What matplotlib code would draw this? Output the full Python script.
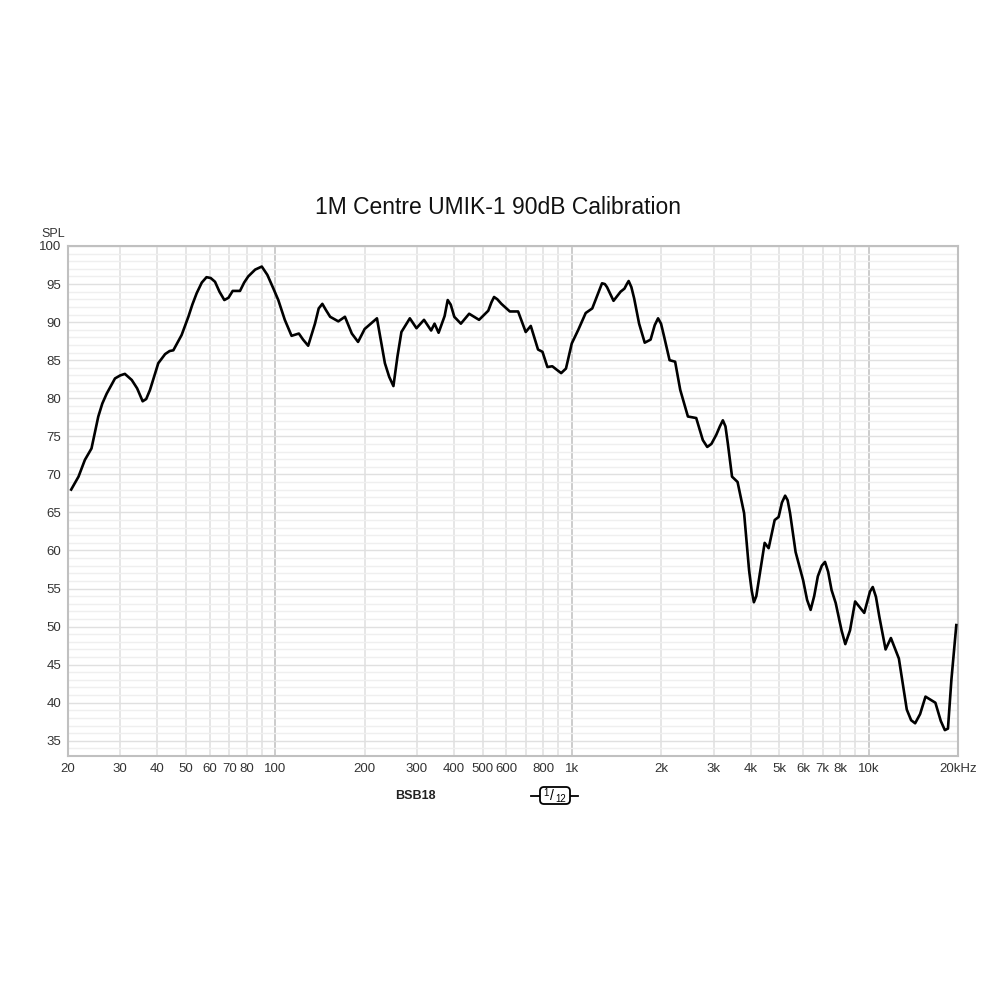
import numpy as np
import matplotlib.pyplot as plt
from matplotlib.patches import FancyBboxPatch

plt.rcParams['font.family'] = ['Liberation Sans', 'DejaVu Sans']

# Frequency response (Hz, dB SPL)
freq = [20.5, 21.7, 22.8, 24.0, 25.3, 26.1, 27.0, 28.8, 30.0, 31.1, 32.8, 34.2,
        35.7, 36.7, 37.8, 39.0, 40.3, 42.5, 44.0, 45.3, 48.3, 50.9, 52.5, 54.3,
        56.5, 58.6, 60.5, 62.6, 64.8, 67.3, 69.5, 71.8, 76, 78.5, 81, 85.5, 90,
        94.0, 98.5, 102.3, 107.6, 113.4, 120, 124, 129, 136, 140, 144, 148, 153,
        163, 171.6, 181, 190, 200, 220, 234, 242, 250, 258, 266, 284, 299, 317,
        335, 344, 355, 372, 381, 390, 401, 422, 450, 486, 522, 535, 546, 560,
        578, 617, 658, 698, 726, 768, 795, 826, 858, 919, 954, 998, 1050, 1112,
        1170, 1230, 1262, 1290, 1312, 1380, 1458, 1502, 1530, 1552, 1585, 1620,
        1683, 1758, 1840, 1900, 1950, 1995, 2038, 2132, 2226, 2316, 2458, 2622,
        2760, 2856, 2950, 3064, 3150, 3224, 3290, 3350, 3462, 3614, 3802, 3952,
        4030, 4102, 4180, 4262, 4460, 4600, 4820, 4970, 5100, 5228, 5330, 5432,
        5670, 6010, 6200, 6372, 6550, 6738, 6950, 7124, 7300, 7496, 7740, 8100,
        8340, 8650, 9000, 9660, 10100, 10320, 10580, 10860, 11400, 11880, 12640,
        13440, 13900, 14340, 14900, 15540, 16780, 17500, 18060, 18500, 19000,
        19740]
spl = [68.0, 69.7, 71.9, 73.4, 77.6, 79.3, 80.6, 82.6, 83.0, 83.2, 82.4, 81.3,
       79.6, 79.9, 81.1, 82.8, 84.6, 85.8, 86.2, 86.3, 88.3, 90.7, 92.3, 93.8,
       95.2, 95.9, 95.8, 95.3, 94.0, 92.9, 93.2, 94.1, 94.1, 95.2, 96.0, 96.9, 97.3,
       96.2, 94.4, 92.9, 90.3, 88.2, 88.5, 87.7, 86.9, 89.8, 91.8, 92.4, 91.6, 90.7,
       90.1, 90.7, 88.5, 87.4, 89.1, 90.5, 84.6, 82.8, 81.6, 85.5, 88.7, 90.5, 89.2,
       90.3, 88.9, 89.8, 88.6, 90.8, 92.9, 92.3, 90.7, 89.8, 91.1, 90.3, 91.5,
       92.6, 93.3, 93.0, 92.4, 91.4, 91.4, 88.7, 89.5, 86.4, 86.1, 84.1, 84.2,
       83.3, 83.9, 87.2, 89.0, 91.2, 91.8, 94.0, 95.1, 95.0, 94.6, 92.8, 94.0,
       94.4, 95.0, 95.4, 94.6, 93.1, 89.8, 87.3, 87.7, 89.6, 90.5, 89.8, 88.3,
       85.0, 84.8, 81.1, 77.6, 77.4, 74.5, 73.6, 74.0, 75.2, 76.3, 77.1, 76.3,
       74.1, 69.7, 69.0, 64.9, 57.4, 54.8, 53.2, 54.0, 56.1, 61.0, 60.3, 64.0,
       64.4, 66.3, 67.2, 66.6, 64.9, 59.8, 56.1, 53.5, 52.2, 54.0, 56.6, 58.0,
       58.5, 57.2, 54.8, 53.1, 49.5, 47.7, 49.5, 53.3, 51.8, 54.6, 55.2, 53.9,
       51.3, 47.0, 48.5, 45.8, 39.1, 37.7, 37.3, 38.5, 40.8, 40.0, 37.6, 36.4,
       36.6, 43.0, 50.2]

xticks = [20, 30, 40, 50, 60, 70, 80, 100, 200, 300, 400, 500, 600, 800,
          1000, 2000, 3000, 4000, 5000, 6000, 7000, 8000, 10000, 20000]
xtick_labels = ['20', '30', '40', '50', '60', '70', '80', '100', '200', '300',
                '400', '500', '600', '800', '1k', '2k', '3k', '4k', '5k', '6k',
                '7k', '8k', '10k', '20kHz']
yticks = list(range(35, 101, 5))

fig = plt.figure(figsize=(10, 10), dpi=100)
ax = fig.add_axes([0.068, 0.244, 0.89, 0.51])

# grid
for f in [20, 30, 40, 50, 60, 70, 80, 90, 200, 300, 400, 500, 600, 700, 800, 900,
          2000, 3000, 4000, 5000, 6000, 7000, 8000, 9000]:
    ax.axvline(f, color='#e2e2e2', lw=1.2, zorder=0)
for f in [100, 1000, 10000]:
    ax.axvline(f, color='#c4c4c4', lw=1.2, zorder=0)
for v in range(33, 101):
    c = '#e0e0e0' if v % 5 == 0 else '#efefef'
    ax.axhline(v, color=c, lw=1.0, zorder=0)

ax.plot(freq, spl, color='black', lw=1.9, solid_joinstyle='round', zorder=3)

ax.set_xscale('log')
ax.set_xlim(20, 20000)
ax.set_ylim(33, 100)
ax.set_xticks(xticks)
ax.set_xticklabels(xtick_labels)
ax.minorticks_off()
ax.set_yticks(yticks)
ax.tick_params(length=0, labelsize=9.5, colors='#333333', pad=5)
for s in ax.spines.values():
    s.set_color('#c0c0c0')
    s.set_linewidth(1.5)

fig.text(0.498, 0.792, '1M Centre UMIK-1 90dB Calibration', ha='center',
         va='center', fontsize=16.5, color='#111111')
fig.text(0.053, 0.766, 'SPL', ha='center', va='center', fontsize=9, color='#333333')

# legend row
fig.text(0.395, 0.204, 'BSB18', ha='left', va='center', fontsize=9,
         fontweight='bold', color='#222222')
fig.add_artist(plt.Line2D([0.531, 0.578], [0.204, 0.204], color='black', lw=1.3, zorder=1))
box = FancyBboxPatch((0.54, 0.196), 0.03, 0.017, boxstyle='round,pad=0,rounding_size=0.004',
                     transform=fig.transFigure, facecolor='white', edgecolor='black',
                     lw=1.3, zorder=2)
fig.add_artist(box)
fig.text(0.5465, 0.2075, '1', ha='center', va='center', fontsize=7, zorder=3)
fig.text(0.5515, 0.2045, '/', ha='center', va='center', fontsize=10, zorder=3)
fig.text(0.561, 0.2005, '12', ha='center', va='center', fontsize=7, zorder=3)

fig.savefig('out.png', dpi=100)
